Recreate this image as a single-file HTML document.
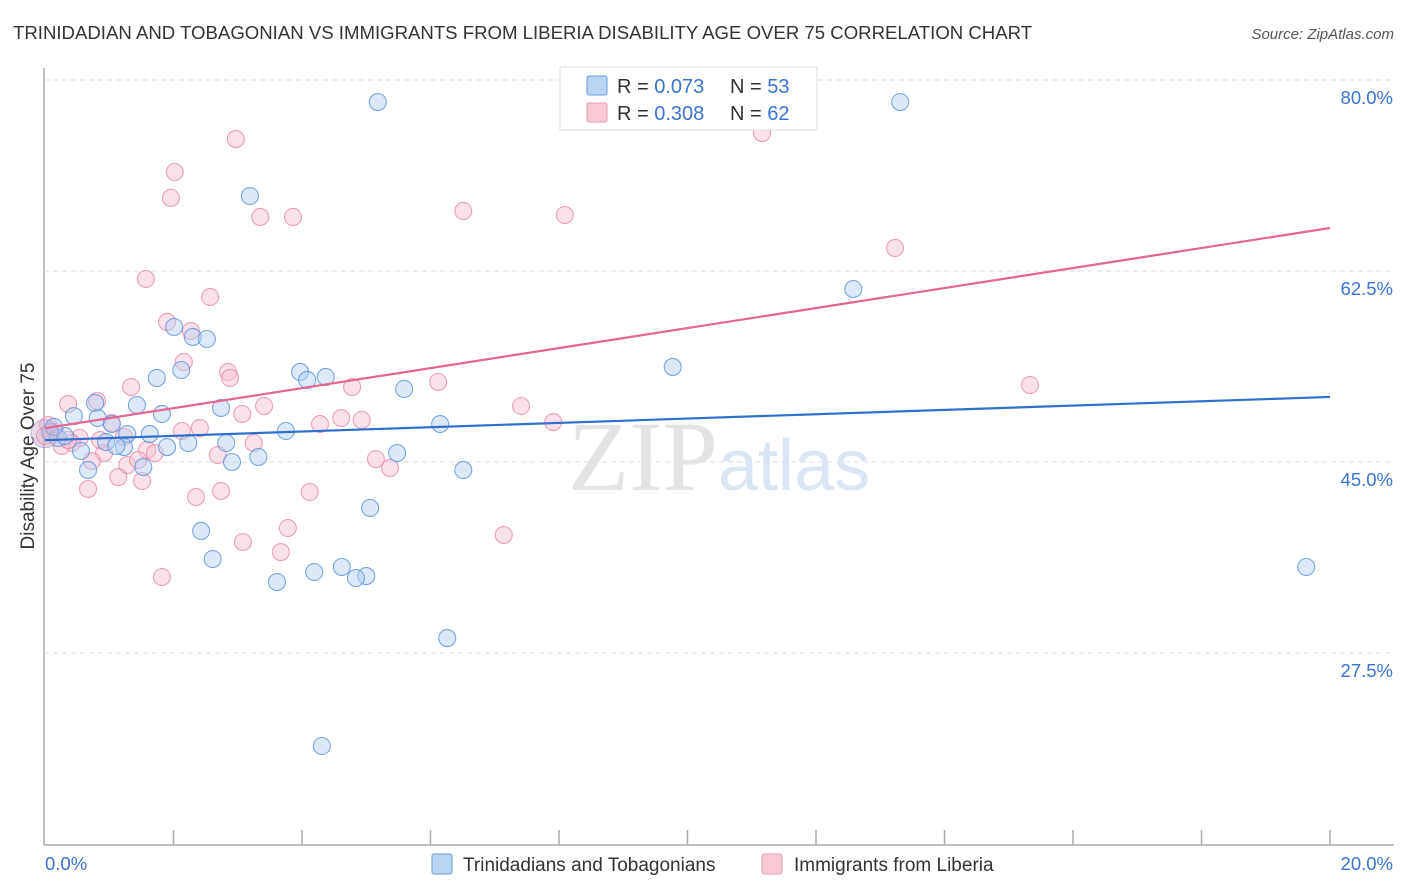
<!DOCTYPE html>
<html><head><meta charset="utf-8"><style>
body{margin:0;background:#fff;font-family:"Liberation Sans",sans-serif}
#wrap{position:relative;width:1406px;height:892px;overflow:hidden}
</style></head><body>
<div id="wrap">
<svg id="svg" width="1406" height="892" xmlns="http://www.w3.org/2000/svg">
<text x="13" y="39" font-size="18.6" fill="#333">TRINIDADIAN AND TOBAGONIAN VS IMMIGRANTS FROM LIBERIA DISABILITY AGE OVER 75 CORRELATION CHART</text>
<text x="1394" y="39" font-size="15" fill="#555" font-style="italic" text-anchor="end">Source: ZipAtlas.com</text>
<text x="0" y="0" transform="translate(34,456) rotate(-90)" font-size="19" fill="#333" text-anchor="middle">Disability Age Over 75</text>
<g id="grid"></g>
<text x="718" y="490" font-size="100" font-family="Liberation Serif,serif" fill="#e4e4e4" text-anchor="end">ZIP</text>
<text x="718" y="490" font-size="72" fill="#dbe6f4">atlas</text>
<g id="marks"></g>
<g>
<rect x="560" y="67" width="257" height="63" fill="#fff" stroke="#ddd"/>
<rect x="587" y="76" width="20" height="19" fill="#bcd4f4" stroke="#6a9de0" rx="2"/>
<text x="617" y="93" font-size="20" fill="#333">R = <tspan fill="#3a74d4">0.073</tspan></text>
<text x="730" y="93" font-size="20" fill="#333">N = <tspan fill="#3a74d4">53</tspan></text>
<rect x="587" y="103" width="20" height="19" fill="#f9c9d6" stroke="#e99ab1" rx="2"/>
<text x="617" y="120" font-size="20" fill="#333">R = <tspan fill="#3a74d4">0.308</tspan></text>
<text x="730" y="120" font-size="20" fill="#333">N = <tspan fill="#3a74d4">62</tspan></text>
</g>
<g>
<rect x="432" y="854" width="20" height="20" fill="#bcd4f4" stroke="#6a9de0" rx="2"/>
<text x="463" y="871" font-size="19" fill="#333">Trinidadians and Tobagonians</text>
<rect x="762" y="854" width="20" height="20" fill="#f9c9d6" stroke="#e99ab1" rx="2"/>
<text x="794" y="871" font-size="19" fill="#333">Immigrants from Liberia</text>
</g>
</svg>
</div>
<script>
const yTicks=[80,62.5,45,27.5];
const xTickLabels=["0.0%","20.0%"];
const blueX=[5.18,13.31,3.19,12.58,2.01,2.30,2.52,9.77,3.97,4.08,4.37,1.74,2.12,5.59,1.43,1.82,2.74,0.78,0.45,0.82,1.04,1.28,1.63,3.75,6.15,2.82,2.23,0.95,1.90,1.23,1.11,0.56,5.48,3.32,2.91,1.53,0.67,6.51,5.06,2.43,2.61,4.62,4.19,5.00,4.84,3.61,19.63,6.26,4.31,0.08,0.20,0.31,0.14];
const blueY=[77.98,77.98,69.37,60.85,57.37,56.46,56.27,53.71,53.25,52.52,52.79,52.70,53.43,51.69,50.22,49.40,49.95,50.41,49.21,49.03,48.48,47.56,47.56,47.84,48.48,46.74,46.74,46.83,46.37,46.37,46.47,46.01,45.82,45.46,45.00,44.54,44.27,44.27,40.79,38.68,36.11,35.38,34.92,34.55,34.37,34.00,35.38,28.87,18.98,47.75,47.20,47.38,48.21];
const pinkX=[2.97,11.16,2.02,1.96,6.51,8.09,3.35,3.86,13.23,1.57,2.57,1.90,2.27,2.16,2.85,2.88,1.34,4.78,6.12,15.33,0.81,0.36,3.41,3.07,4.61,4.93,4.28,7.41,7.91,1.04,2.13,2.41,1.23,0.54,0.42,0.92,1.59,1.71,3.25,2.69,5.15,5.37,0.73,1.28,1.45,1.14,1.51,0.67,2.35,2.74,4.12,3.78,7.14,3.08,3.67,1.82,0.05,0.16,0.26,0.36,0.86,0.00];
const pinkY=[74.59,75.14,71.57,69.19,68.00,67.63,67.45,67.45,64.61,61.77,60.12,57.83,57.00,54.16,53.25,52.70,51.87,51.87,52.33,52.05,50.59,50.31,50.13,49.40,49.03,48.85,48.48,50.13,48.66,48.57,47.84,48.11,47.29,47.20,46.74,45.82,46.10,45.82,46.74,45.64,45.27,44.45,45.09,44.72,45.18,43.62,43.26,42.53,41.79,42.34,42.25,38.95,38.31,37.67,36.75,34.46,48.39,47.75,46.47,47.01,47.01,47.38];
const blueTrend=[47.0,50.96];
const pinkTrend=[48.1,66.44];
const NS="http://www.w3.org/2000/svg";
const xs=v=>45+v/20*1285;
const ys=v=>80+(80-v)*191/17.5;
function mk(t,a,p){const e=document.createElementNS(NS,t);for(const k in a)e.setAttribute(k,a[k]);p.appendChild(e);return e;}
const grid=document.getElementById('grid');
mk('line',{x1:44,y1:68,x2:44,y2:845,stroke:'#aaa','stroke-width':1.5},grid);
mk('line',{x1:44,y1:845,x2:1394,y2:845,stroke:'#aaa','stroke-width':1.5},grid);
for(let i=1;i<=10;i++){const l=mk('line',{x1:xs(i*2),y1:830,x2:xs(i*2),y2:845,stroke:'#aaa','stroke-width':1.5},grid);

}
yTicks.forEach(v=>{
const l=mk('line',{x1:44,y1:ys(v),x2:1393,y2:ys(v),stroke:'#ddd','stroke-dasharray':'5,4'},grid);


const t=mk('text',{x:1393,y:ys(v)+24,'font-size':18.5,fill:'#3a74d4','text-anchor':'end'},grid);
t.textContent=v.toFixed(1)+'%';

});
xTickLabels.forEach((s,i)=>{const t=mk('text',{x:i?1393:45,y:870,'font-size':18.5,fill:'#3a74d4','text-anchor':i?'end':'start'},grid);
t.textContent=s;

});
const marks=document.getElementById('marks');
function pts(X,Y,fill,stroke,name){X.forEach((x,i)=>{const c=mk('circle',{cx:xs(x),cy:ys(Y[i]),r:8.5,fill:fill,'fill-opacity':0.45,stroke:stroke,'stroke-opacity':0.8,'stroke-width':1.1},marks);

});}
pts(pinkX,pinkY,'#f7bfd0','#e88aa6','liberia-point');
pts(blueX,blueY,'#b4cff2','#5a92dc','trinidad-point');
const big=mk('circle',{cx:xs(0),cy:ys(47.6),r:14,fill:'#c9a9c8','fill-opacity':0.45,stroke:'#a89ad0','stroke-opacity':0.7},marks);


const bl=mk('line',{x1:xs(0),y1:ys(blueTrend[0]),x2:xs(20),y2:ys(blueTrend[1]),stroke:'#2f6fd0','stroke-width':2.2},marks);


const pl=mk('line',{x1:xs(0),y1:ys(pinkTrend[0]),x2:xs(20),y2:ys(pinkTrend[1]),stroke:'#e5668e','stroke-width':2.2},marks);


</script>
</body></html>
